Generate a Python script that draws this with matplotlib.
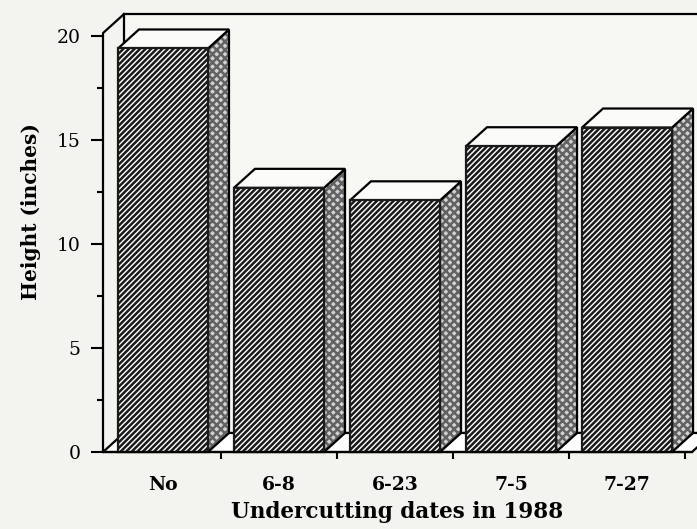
import matplotlib.pyplot as plt
from matplotlib.patches import Polygon
from matplotlib.ticker import MultipleLocator

# Data
categories = ['No', '6-8', '6-23', '7-5', '7-27']
heights = [19.4, 12.7, 12.1, 14.7, 15.6]
y_ticks = [0, 5, 10, 15, 20]

plt.rcParams['font.family'] = ['DejaVu Serif']
plt.rcParams['hatch.linewidth'] = 1.8

W, H = 697, 529
bg = '#f3f3ef'
fig = plt.figure(figsize=(W / 100, H / 100), dpi=100, facecolor=bg)
ax = fig.add_axes([103 / W, (H - 452) / H, 589 / W, 416 / H])
ax.set_facecolor('none')
x0, x1 = -0.517, 4.56
ax.set_xlim(x0, x1)
ax.set_ylim(0, 20)
for s in ax.spines.values():
    s.set_visible(False)

# depth of the fake 3d, pixels -> data units
px_x = ax.bbox.width / (x1 - x0)
px_y = ax.bbox.height / 20
dx = 21 / px_x
dy = 19 / px_y
top = 20.14
bw = 0.776
lw = 1.6

# back wall and floor
wall = Polygon([(x0 + dx, dy), (x0 + dx, top + dy), (x1 + dx, top + dy), (x1 + dx, dy)],
               closed=True, facecolor='#f7f7f4', edgecolor='black', lw=lw,
               clip_on=False, zorder=1)
ax.add_patch(wall)
floor = Polygon([(x0, 0), (x1, 0), (x1 + dx, dy), (x0 + dx, dy)], closed=True,
                facecolor='white', edgecolor='black', lw=lw, clip_on=False, zorder=1.5)
ax.add_patch(floor)

# bars
for i, h in enumerate(heights):
    l, r = i - bw / 2, i + bw / 2
    side = [(r, 0), (r + dx, dy), (r + dx, h + dy), (r, h)]
    ax.add_patch(Polygon(side, closed=True, facecolor='#d2d2d2', edgecolor='#626262',
                         lw=0, hatch='xxxx', zorder=3, clip_on=False))
    ax.add_patch(Polygon(side, closed=True, fill=False, edgecolor='black', lw=lw,
                         zorder=3.1, clip_on=False))
    tp = [(l, h), (r, h), (r + dx, h + dy), (l + dx, h + dy)]
    ax.add_patch(Polygon(tp, closed=True, facecolor='#fbfbfa', edgecolor='black',
                         lw=lw, zorder=3.2, clip_on=False))
    front = [(l, 0), (r, 0), (r, h), (l, h)]
    ax.add_patch(Polygon(front, closed=True, facecolor='white', edgecolor='#1a1a1a',
                         lw=lw, hatch='//////', zorder=3.3, clip_on=False))

# front axis line and corner
ax.plot([x0, x0, x0 + dx], [0, top, top + dy], color='black', lw=lw,
        clip_on=False, zorder=5, solid_capstyle='projecting')
ax.plot([x0, x1], [0, 0], color='black', lw=lw, clip_on=False, zorder=5)

# ticks
ax.set_yticks(y_ticks)
ax.yaxis.set_minor_locator(MultipleLocator(2.5))
ax.tick_params(axis='y', which='major', length=9, width=1.5, pad=7, labelsize=13.5)
ax.tick_params(axis='y', which='minor', length=4.5, width=1.5)
ax.set_xticks(range(len(categories)))
ax.set_xticklabels(categories, fontweight='bold')
ax.set_xticks([i + 0.5 for i in range(len(categories))], minor=True)
ax.tick_params(axis='x', which='major', length=0, pad=17, labelsize=13.5)
ax.tick_params(axis='x', which='minor', length=5, width=1.5)

ax.set_xlabel('Undercutting dates in 1988', fontsize=15.5, fontweight='bold', labelpad=5)
ax.set_ylabel('Height (inches)', fontsize=14.5, fontweight='bold')
ax.yaxis.set_label_coords(-0.105, 0.579)

fig.savefig('out.png', dpi=100, facecolor=bg)
